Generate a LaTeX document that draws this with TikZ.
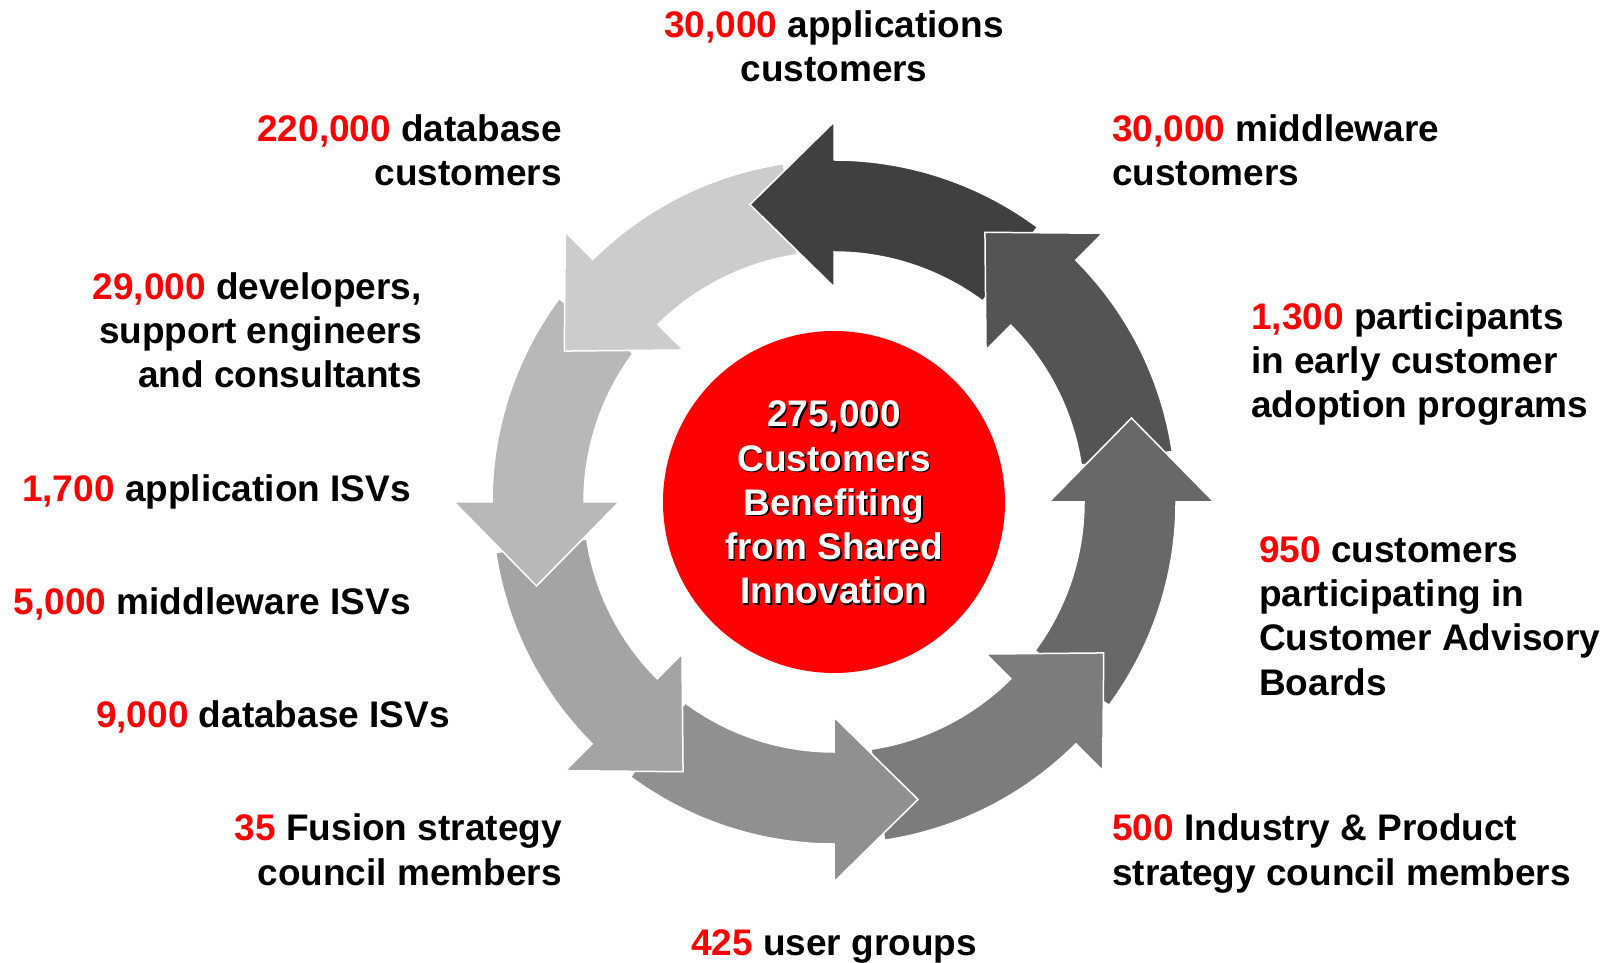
\documentclass[tikz,border=0pt]{standalone}
\usepackage{fontspec}
\setmainfont{Liberation Sans}

\newcommand{\rednum}[1]{\textcolor{red}{#1}}

\begin{document}
\begin{tikzpicture}[x=1pt,y=1pt,
  stat/.style={inner sep=0pt, font=\fontsize{37}{44.3}\selectfont\bfseries},
  ringarrow/.style={draw=white, line width=1.5pt, line join=miter}]
  \useasboundingbox (0,0) rectangle (1614,962);

  % Centre of the cycle
  \coordinate (O) at (834,460);

  % Eight arrows round the ring, lightest first; each head lies on the next tail
  \begin{scope}[shift={(O)}]
    \foreach \t/\g in {135/204, 90/64, 45/84, 0/104, -45/124, -90/144, -135/164, -180/184} {
      \filldraw[ringarrow, fill={rgb,255:red,\g;green,\g;blue,\g}]
        (\t-36.5:342) arc[start angle=\t-36.5, end angle=\t, radius=342]
        -- (\t:380) -- (\t+15.77:309.1) -- (\t:215) -- (\t:250)
        arc[start angle=\t, end angle=\t-36.5, radius=250] -- cycle;
    }
    % Head of the lightest arrow back on top of the last tail
    \fill[fill={rgb,255:red,204;green,204;blue,204}] (135:380) -- (150.77:309.1) -- (135:215) -- cycle;
    \draw[ringarrow] (135:380) -- (150.77:309.1) -- (135:215);
  \end{scope}

  % Red hub (base anchors sit on the last line)
  \node[circle, fill=red, minimum size=342pt, inner sep=0pt] (hub) at (O) {};
  \node[stat, text=black, align=center, anchor=base] (hubshadow) at (835.5,356.5)
    {275,000\\Customers\\Benefiting\\from Shared\\Innovation};
  \node[stat, text=white, align=center, anchor=base] (hubtext) at (834,358)
    {275,000\\Customers\\Benefiting\\from Shared\\Innovation};

  % Figures round the ring
  \node[stat, align=center, anchor=base] (apps) at (834,880) {\rednum{30,000} applications\\customers};
  \node[stat, align=right, anchor=base east] (dbcust) at (562,776) {\rednum{220,000} database\\customers};
  \node[stat, align=left, anchor=base west] (mwcust) at (1112,776) {\rednum{30,000} middleware\\customers};
  \node[stat, align=right, anchor=base east] (devs) at (422,574) {\rednum{29,000} developers,\\support engineers\\and consultants};
  \node[stat, align=left, anchor=base west] (early) at (1251,544) {\rednum{1,300} participants\\in early customer\\adoption programs};
  \node[stat, anchor=base east] (appisv) at (411,460) {\rednum{1,700} application ISVs};
  \node[stat, align=left, anchor=base west] (boards) at (1259,267) {\rednum{950} customers\\participating in\\Customer Advisory\\Boards};
  \node[stat, anchor=base east] (mwisv) at (411,347) {\rednum{5,000} middleware ISVs};
  \node[stat, anchor=base east] (dbisv) at (450,235) {\rednum{9,000} database ISVs};
  \node[stat, align=right, anchor=base east] (fusion) at (562,77) {\rednum{35} Fusion strategy\\council members};
  \node[stat, align=left, anchor=base west] (industry) at (1112,77) {\rednum{500} Industry \& Product\\strategy council members};
  \node[stat, anchor=base] (groups) at (834,7) {\rednum{425} user groups};
\end{tikzpicture}
\end{document}
